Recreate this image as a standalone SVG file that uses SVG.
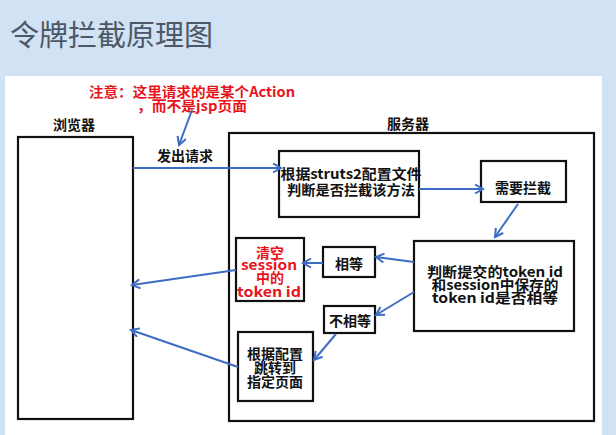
<svg xmlns="http://www.w3.org/2000/svg" width="616" height="435" viewBox="0 0 616 435">
<style>
.box{fill:#fff;stroke:#111;stroke-width:2.2}
.t{font-family:"Noto Sans CJK SC","Liberation Sans",sans-serif;font-weight:bold;font-size:14px;fill:#111;dominant-baseline:central;text-anchor:middle}
.red{fill:#e8141c}
.conn{stroke:#3d6cc4;stroke-width:2;fill:none;marker-end:url(#ah)}
</style>
<defs>
<marker id="ah" markerUnits="userSpaceOnUse" markerWidth="12" markerHeight="12" refX="9" refY="5" orient="auto">
<path d="M1,0.5 L9,5 L1,9.5" fill="none" stroke="#3d6cc4" stroke-width="2"/>
</marker>
</defs>
<rect x="0" y="0" width="616" height="435" fill="#d0e2f3"/>
<text x="10" y="33" style="font-family:'Noto Sans CJK SC',sans-serif;font-size:29px;fill:#4d5866;dominant-baseline:central">令牌拦截原理图</text>
<rect x="5" y="76" width="597" height="359" fill="#fff"/>

<g id="note">
<text class="t red" x="192" y="91" textLength="206" lengthAdjust="spacingAndGlyphs">注意：这里请求的是某个Action</text>
<text class="t red" x="192" y="105" textLength="110" lengthAdjust="spacingAndGlyphs">，而不是jsp页面</text>
</g>

<g id="browser">
<rect class="box" x="18" y="137" width="115" height="282"/>
<text class="t" x="74" y="124">浏览器</text>
</g>

<g id="server">
<rect class="box" x="229" y="133" width="365" height="288"/>
<text class="t" x="408" y="123">服务器</text>
</g>

<g id="request-label">
<text class="t" x="185" y="155">发出请求</text>
</g>

<g id="check-config">
<rect class="box" x="279" y="151" width="140" height="66"/>
<text class="t" x="351" y="173" textLength="141" lengthAdjust="spacingAndGlyphs">根据struts2配置文件</text>
<text class="t" x="351" y="189" textLength="128" lengthAdjust="spacingAndGlyphs">判断是否拦截该方法</text>
</g>

<g id="need-intercept">
<rect class="box" x="481" y="161" width="85" height="41"/>
<text class="t" x="523" y="187">需要拦截</text>
</g>

<g id="compare-token">
<rect class="box" x="414" y="241" width="160" height="90"/>
<text class="t" x="495" y="271" textLength="136" lengthAdjust="spacingAndGlyphs">判断提交的token id</text>
<text class="t" x="495" y="284" textLength="127" lengthAdjust="spacingAndGlyphs">和session中保存的</text>
<text class="t" x="495" y="297" textLength="126" lengthAdjust="spacingAndGlyphs">token id是否相等</text>
</g>

<g id="equal">
<rect class="box" x="323" y="247" width="52" height="30"/>
<text class="t" x="349" y="263">相等</text>
</g>

<g id="clear-session">
<rect class="box" x="236" y="238" width="68" height="63"/>
<text class="t red" x="270" y="252">清空</text>
<text class="t red" x="269" y="264" textLength="56" lengthAdjust="spacingAndGlyphs">session</text>
<text class="t red" x="270" y="277">中的</text>
<text class="t red" x="269" y="291" textLength="64" lengthAdjust="spacingAndGlyphs">token id</text>
</g>

<g id="not-equal">
<rect class="box" x="324" y="306" width="51" height="27"/>
<text class="t" x="350" y="320">不相等</text>
</g>

<g id="redirect">
<rect class="box" x="238" y="332" width="75" height="69"/>
<text class="t" x="275" y="353">根据配置</text>
<text class="t" x="275" y="367">跳转到</text>
<text class="t" x="275" y="381">指定页面</text>
</g>

<g id="connectors">
<line class="conn" x1="192" y1="110" x2="179" y2="145"/>
<line class="conn" x1="133" y1="168" x2="281" y2="168"/>
<line class="conn" x1="419" y1="189" x2="483" y2="189"/>
<line class="conn" x1="518" y1="204" x2="495" y2="237"/>
<line class="conn" x1="414" y1="262" x2="376" y2="257"/>
<line class="conn" x1="323" y1="263" x2="303" y2="263"/>
<line class="conn" x1="236" y1="270" x2="132" y2="285"/>
<line class="conn" x1="414" y1="292" x2="376" y2="315"/>
<line class="conn" x1="336" y1="334" x2="314" y2="360"/>
<line class="conn" x1="238" y1="367" x2="131" y2="330"/>
</g>
</svg>
